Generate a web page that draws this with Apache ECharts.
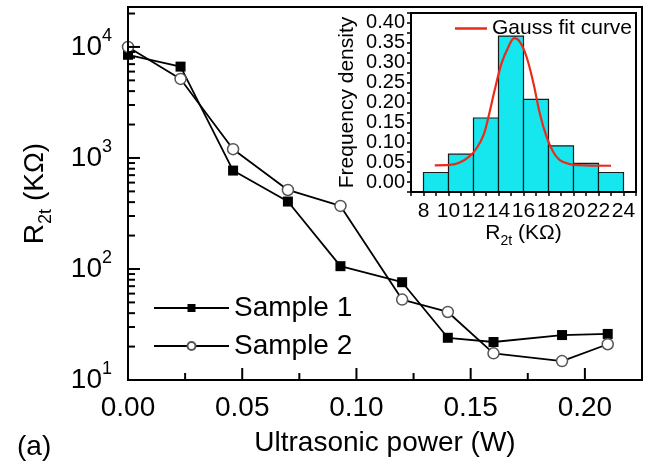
<!DOCTYPE html>
<html>
<head>
<meta charset="utf-8">
<script src="https://cdn.jsdelivr.net/npm/echarts@6/dist/echarts.min.js"></script>
<style>
  html, body { margin: 0; padding: 0; background: #fff; }
  #chart { width: 652px; height: 463px; }
</style>
</head>
<body>
<div id="chart"></div>
<script>
// main plot: resistance vs ultrasonic power
const power = [0, 0.023, 0.046, 0.07, 0.093, 0.12, 0.14, 0.16, 0.19, 0.21];
const sample1 = [8500, 6650, 770, 405, 106, 76, 24, 22, 25.4, 26];
const sample2 = [10000, 5150, 1200, 515, 370, 53, 41, 17.4, 14.8, 21];
const xLabels = [0, 0.05, 0.1, 0.15, 0.2];
const xMinorTicks = [0.025, 0.075, 0.125, 0.175];
const yLabels = [10, 100, 1000, 10000];
const yMinorTicks = [20, 30, 40, 50, 60, 70, 80, 90, 200, 300, 400, 500, 600, 700, 800, 900,
  2000, 3000, 4000, 5000, 6000, 7000, 8000, 9000, 20000];

// inset: histogram + gauss fit
const binStart = [8, 10, 12, 14, 16, 18, 20, 22];
const binEnd = [10, 12, 14, 16, 18, 20, 22, 24];
const freqDensity = [0.024, 0.07, 0.161, 0.367, 0.208, 0.091, 0.047, 0.024];
const gaussX = [8.9, 10.1, 10.9, 11.7, 12.25, 12.8, 13.2, 13.7, 14.25, 14.8, 15.26, 15.7, 16.24, 16.8, 17.3, 17.84, 18.37, 18.9, 19.7, 21, 23];
const gaussY = [0.042, 0.043, 0.049, 0.065, 0.085, 0.118, 0.164, 0.232, 0.299, 0.34, 0.362, 0.353, 0.315, 0.248, 0.173, 0.114, 0.076, 0.055, 0.045, 0.042, 0.041];
const insetXLabels = [8, 10, 12, 14, 16, 18, 20, 22, 24];
const insetYLabels = [0, 0.05, 0.1, 0.15, 0.2, 0.25, 0.3, 0.35, 0.4];

const FONT = "'Liberation Sans', Arial, sans-serif";
const INSET_YMIN = -0.025;
const X_MAX = 0.225;
const Y_MIN = 10, Y_MAX = 22900;

const chart = echarts.init(document.getElementById('chart'));

// inward frame ticks, placed through the main axes' scales
function xTickSeries(values, len) {
  return {
    type: 'custom', xAxisIndex: 0, yAxisIndex: 0, z: 10, silent: true,
    data: values.map(v => [v, Y_MIN]),
    renderItem: (params, api) => {
      const p = api.coord([api.value(0), api.value(1)]);
      return { type: 'line', shape: { x1: p[0], y1: p[1], x2: p[0], y2: p[1] - len },
        style: { stroke: '#000', lineWidth: 2 } };
    }
  };
}
function yTickSeries(values, len) {
  return {
    type: 'custom', xAxisIndex: 0, yAxisIndex: 0, z: 10, silent: true,
    data: values.map(v => [0, v]),
    renderItem: (params, api) => {
      const p = api.coord([api.value(0), api.value(1)]);
      return { type: 'line', shape: { x1: p[0], y1: p[1], x2: p[0] + len, y2: p[1] },
        style: { stroke: '#000', lineWidth: 2 } };
    }
  };
}

const option = {
  animation: false,
  title: {
    text: '(a)', left: 12, top: 428,
    textStyle: { fontFamily: FONT, fontSize: 28, fontWeight: 'normal', color: '#000' }
  },
  legend: [
    {
      data: ['Sample 1', 'Sample 2'],
      orient: 'vertical', left: 148, top: 289,
      itemWidth: 75, itemHeight: 10, itemGap: 10,
      textStyle: { fontFamily: FONT, fontSize: 28, color: '#000' }
    },
    {
      data: [{ name: 'Gauss fit curve', icon: 'rect' }],
      left: 450, top: 13, z: 20,
      itemWidth: 32, itemHeight: 2.5,
      textStyle: { fontFamily: FONT, fontSize: 21, color: '#000' }
    }
  ],
  grid: [
    { left: 128, right: 10, top: 7, bottom: 83, show: true, borderColor: '#000', borderWidth: 2 },
    { left: 411, right: 16, top: 13, bottom: 271, show: true, borderColor: '#000', borderWidth: 2, backgroundColor: '#fff', z: 5 }
  ],
  xAxis: [
    {
      type: 'value', gridIndex: 0, min: 0, max: X_MAX, interval: 0.05, z: 10,
      axisLine: { show: true, onZero: false, lineStyle: { color: '#000', width: 2 } },
      axisTick: { show: false },
      axisLabel: { customValues: xLabels.slice(), formatter: v => v.toFixed(2), fontFamily: FONT, fontSize: 28, color: '#000', margin: 14 },
      splitLine: { show: false },
      name: 'Ultrasonic power (W)', nameLocation: 'middle', nameGap: 49,
      nameTextStyle: { fontFamily: FONT, fontSize: 28, color: '#000' }
    },
    {
      type: 'value', gridIndex: 1, min: 7, max: 25, interval: 1, z: 10,
      axisLine: { show: true, onZero: false, lineStyle: { color: '#000', width: 2 } },
      axisTick: { show: true, length: 4, lineStyle: { color: '#000', width: 1.5 } },
      axisLabel: { customValues: insetXLabels.slice(), fontFamily: FONT, fontSize: 21, color: '#000', margin: 9 },
      splitLine: { show: false },
      name: '{a|R}{s|2t}{a| (KΩ)}', nameLocation: 'middle', nameGap: 23,
      nameTextStyle: {
        rich: {
          a: { fontFamily: FONT, fontSize: 21, lineHeight: 30, color: '#000' },
          s: { fontFamily: FONT, fontSize: 14, lineHeight: 14, verticalAlign: 'bottom', color: '#000' }
        }
      }
    }
  ],
  yAxis: [
    {
      type: 'log', logBase: 10, gridIndex: 0, min: Y_MIN, max: Y_MAX, z: 10,
      axisLine: { show: true, onZero: false, lineStyle: { color: '#000', width: 2 } },
      axisTick: { show: false },
      axisLabel: {
        customValues: yLabels.slice(), margin: 16,
        formatter: v => '{b|10}{s|' + Math.round(Math.log10(v)) + '}',
        rich: {
          b: { fontFamily: FONT, fontSize: 28, lineHeight: 40, color: '#000' },
          s: { fontFamily: FONT, fontSize: 18, lineHeight: 18, verticalAlign: 'top', color: '#000' }
        }
      },
      splitLine: { show: false },
      name: '{a|R}{s|2t}{a| (KΩ)}', nameLocation: 'middle', nameGap: 73,
      nameTextStyle: {
        rich: {
          a: { fontFamily: FONT, fontSize: 28, lineHeight: 40, color: '#000' },
          s: { fontFamily: FONT, fontSize: 18, lineHeight: 18, verticalAlign: 'bottom', color: '#000' }
        }
      }
    },
    {
      type: 'value', gridIndex: 1, min: INSET_YMIN, max: 0.425, interval: 0.025, z: 10,
      axisLine: { show: true, onZero: false, lineStyle: { color: '#000', width: 2 } },
      axisTick: { show: true, length: 4, lineStyle: { color: '#000', width: 1.5 } },
      axisLabel: {
        customValues: insetYLabels.slice(), hideOverlap: false,
        formatter: v => v.toFixed(2), fontFamily: FONT, fontSize: 20, lineHeight: 14, color: '#000', margin: 6
      },
      splitLine: { show: false },
      name: 'Frequency density', nameLocation: 'middle', nameGap: 53,
      nameTextStyle: { fontFamily: FONT, fontSize: 21, color: '#000' }
    }
  ],
  series: [
    {
      name: 'Sample 1', type: 'line', xAxisIndex: 0, yAxisIndex: 0,
      data: power.map((p, i) => [p, sample1[i]]),
      symbol: 'rect', symbolSize: 10,
      itemStyle: { color: '#000' },
      lineStyle: { color: '#000', width: 1.8 },
      z: 3
    },
    {
      name: 'Sample 2', type: 'line', xAxisIndex: 0, yAxisIndex: 0,
      data: power.map((p, i) => [p, sample2[i]]),
      symbol: 'circle', symbolSize: 11, showAllSymbol: true,
      itemStyle: { color: '#fff', borderColor: '#555', borderWidth: 1.5 },
      lineStyle: { color: '#000', width: 1.8 },
      z: 3
    },
    xTickSeries(xLabels, 12),
    xTickSeries(xMinorTicks, 7),
    yTickSeries(yLabels, 12),
    yTickSeries(yMinorTicks, 7),
    {
      name: 'Histogram', type: 'custom', xAxisIndex: 1, yAxisIndex: 1,
      data: binStart.map((b, i) => [b, binEnd[i], freqDensity[i]]),
      encode: { x: [0, 1], y: 2 },
      z: 6,
      renderItem: (params, api) => {
        const p0 = api.coord([api.value(0), INSET_YMIN]);
        const p1 = api.coord([api.value(1), api.value(2)]);
        return {
          type: 'rect',
          shape: { x: p0[0], y: p1[1], width: p1[0] - p0[0], height: p0[1] - p1[1] },
          style: { fill: '#16e6ee', stroke: '#1a1a1a', lineWidth: 1.2 }
        };
      }
    },
    {
      name: 'Gauss fit curve', type: 'line', xAxisIndex: 1, yAxisIndex: 1,
      data: gaussX.map((x, i) => [x, gaussY[i]]),
      symbol: 'none', smooth: 0.35,
      itemStyle: { color: '#ec2a1a' },
      lineStyle: { color: '#ec2a1a', width: 2.2 },
      z: 7
    }
  ]
};

chart.setOption(option);
</script>
</body>
</html>
